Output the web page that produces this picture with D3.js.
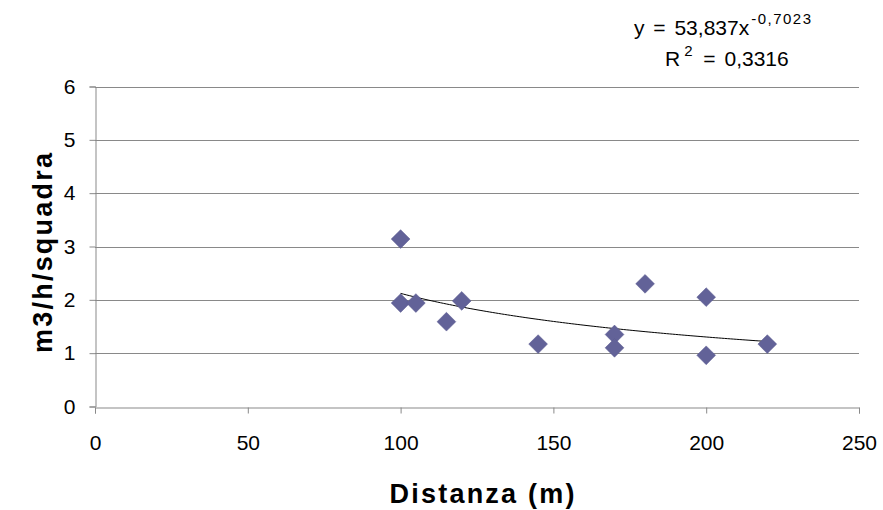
<!DOCTYPE html>
<html>
<head>
<meta charset="utf-8">
<script src="https://cdn.jsdelivr.net/npm/d3@7"></script>
<style>
  body { margin: 0; background: #fff; }
  text { font-family: "Liberation Sans", Arial, sans-serif; fill: #000; }
</style>
</head>
<body>
<div id="chart"></div>
<script>
// data
const distanza = [100, 100, 105, 115, 120, 145, 170, 170, 180, 200, 200, 220];
const portata = [3.14, 1.94, 1.94, 1.59, 1.98, 1.17, 1.35, 1.10, 2.30, 2.05, 0.96, 1.17];
const xTicks = [0, 50, 100, 150, 200, 250];
const yTicks = [0, 1, 2, 3, 4, 5, 6];
// power trend line y = a * x^b
const trendCoef = [53.837, -0.7023];
const r2 = 0.3316;

const width = 883, height = 510;
const margin = { left: 95, right: 24, top: 86.5, bottom: 103.5 };

const svg = d3.select("#chart")
    .append("svg")
        .attr("width", width)
        .attr("height", height);

const x = d3.scaleLinear()
    .domain([0, 250])
    .range([margin.left, width - margin.right]);

const y = d3.scaleLinear()
    .domain([0, 6])
    .range([height - margin.bottom, margin.top]);

// grid lines
svg.append("g")
    .selectAll("line")
    .data(yTicks.filter(d => d > 0))
    .enter()
    .append("line")
        .attr("x1", x(0))
        .attr("x2", x(250))
        .attr("y1", d => Math.round(y(d)) + 0.5)
        .attr("y2", d => Math.round(y(d)) + 0.5)
        .attr("stroke", "#898989")
        .attr("stroke-width", 1);

// y axis
const yAxis = svg.append("g")
    .attr("transform", `translate(${Math.round(x(0)) + 0.5},0)`)
    .call(d3.axisLeft(y).tickValues(yTicks).tickSize(6).tickPadding(14).tickFormat(d3.format("d")));
yAxis.select(".domain").attr("stroke", "#898989");
yAxis.selectAll(".tick line").attr("stroke", "#898989");
yAxis.selectAll(".tick text")
    .style("font-size", "21px")
    .style("font-family", "'Liberation Sans', Arial, sans-serif")
    .attr("fill", "#000");

// x axis
const xAxis = svg.append("g")
    .attr("transform", `translate(0,${Math.round(y(0)) + 0.5})`)
    .call(d3.axisBottom(x).tickValues(xTicks).tickSize(6).tickPadding(22).tickFormat(d3.format("d")));
xAxis.select(".domain").attr("stroke", "#898989");
xAxis.selectAll(".tick line").attr("stroke", "#898989");
xAxis.selectAll(".tick text")
    .style("font-size", "21px")
    .style("font-family", "'Liberation Sans', Arial, sans-serif")
    .attr("fill", "#000");

// trend line
const xs = d3.range(d3.min(distanza), d3.max(distanza) + 0.5, 1);
const line = d3.line()
    .x(d => x(d))
    .y(d => y(trendCoef[0] * Math.pow(d, trendCoef[1])));

svg.append("path")
    .datum(xs)
    .attr("d", line)
    .attr("fill", "none")
    .attr("stroke", "#000")
    .attr("stroke-width", 1);

// points
const pts = distanza.map((d, i) => [d, portata[i]]);
svg.append("g")
    .selectAll("path")
    .data(pts)
    .enter()
    .append("path")
        .attr("d", d3.symbol().type(d3.symbolDiamond2).size(225))
        .attr("transform", d => `translate(${x(d[0])},${y(d[1])})`)
        .attr("fill", "#626298")
        .attr("stroke", "#5a5a90")
        .attr("stroke-width", 0.5);

// axis titles
svg.append("text")
    .text("Distanza (m)")
    .attr("x", 482)
    .attr("y", 503)
    .attr("textLength", 185)
    .attr("lengthAdjust", "spacing")
    .style("text-anchor", "middle")
    .style("font-size", "27px")
    .style("font-weight", "bold");

svg.append("text")
    .text("m3/h/squadra")
    .attr("transform", "translate(52,253) rotate(-90)")
    .attr("textLength", 200)
    .attr("lengthAdjust", "spacing")
    .style("text-anchor", "middle")
    .style("font-size", "27px")
    .style("font-weight", "bold");

// equation
const fmt = v => String(v).replace(".", ",");
const eq = svg.append("text")
    .attr("x", 634)
    .attr("y", 35)
    .style("font-size", "21px")
    .style("word-spacing", "3px");
eq.append("tspan").text(`y = ${fmt(trendCoef[0])}x`);
eq.append("tspan")
    .text(fmt(trendCoef[1]))
    .attr("dy", -11)
    .attr("dx", 2)
    .style("font-size", "15px")
    .style("letter-spacing", "1.5px");

const r = svg.append("text")
    .attr("x", 665)
    .attr("y", 66)
    .style("font-size", "21px")
    .style("word-spacing", "3px");
r.append("tspan").text("R");
r.append("tspan").text("2").attr("dy", -10).attr("dx", 4).style("font-size", "15px");
r.append("tspan").text(` = ${fmt(r2)}`).attr("dy", 10).attr("dx", 2);
</script>
</body>
</html>
